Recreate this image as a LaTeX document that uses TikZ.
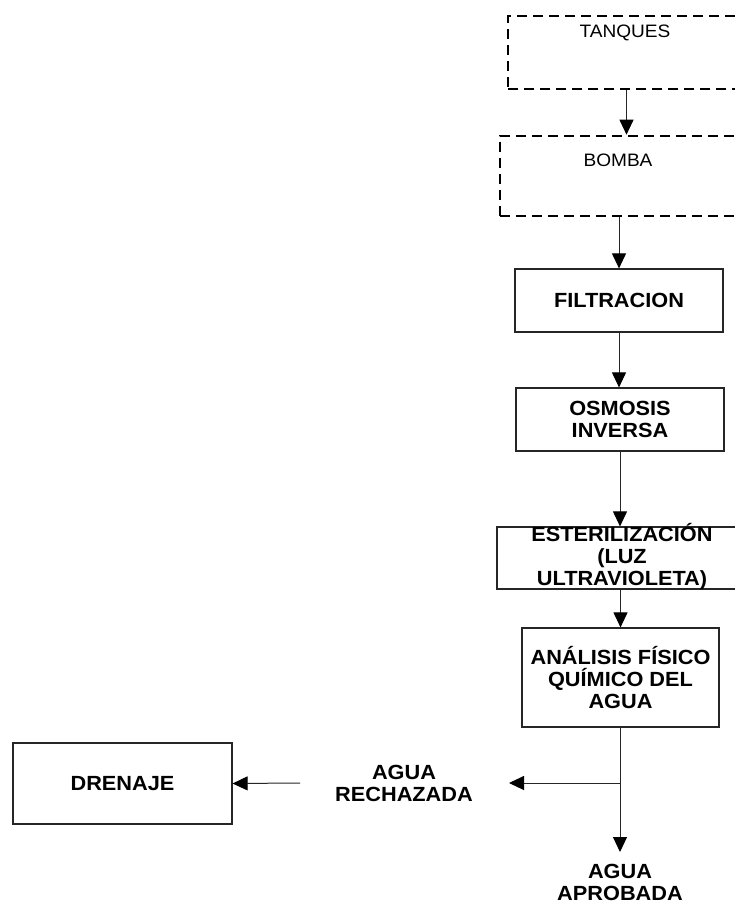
\documentclass[tikz,border=0pt]{standalone}
\usepackage{fontspec}
\setmainfont[FakeStretch=1.06]{Liberation Sans}
\usetikzlibrary{arrows.meta}
\tikzset{
  box/.style={draw=black!85, line width=1.2pt, inner sep=0pt, align=center,
    font=\fontsize{20.5}{22}\selectfont\bfseries},
  dashbox/.style={draw=black, line width=2.6pt, dash pattern=on 10pt off 6pt, inner sep=0pt},
  plain/.style={inner sep=0pt, font=\fontsize{18}{20}\selectfont},
  lbl/.style={inner sep=0pt, align=center, font=\fontsize{20.5}{22}\selectfont\bfseries},
  flow/.style={draw=black!85, line width=1pt, -{Triangle[width=14pt,length=15pt,color=black]}},
  wire/.style={draw=black!85, line width=1pt}
}
\begin{document}
\begin{tikzpicture}[x=1pt, y=-1pt]
  \clip (0,0) rectangle (735,904);
  \fill[white] (0,0) rectangle (735,904);

  % dashed boxes running past the right edge
  \node[dashbox, minimum width=237pt, minimum height=73pt] (tanques) at (626.5,52.5) {};
  \node[plain] (tanqueslbl) at (625,33) {TANQUES};
  \node[dashbox, minimum width=245pt, minimum height=80pt] (bomba) at (622.5,176) {};
  \node[plain] (bombalbl) at (618,160) {BOMBA};

  % process boxes
  \node[box, minimum width=208pt, minimum height=63pt] (filtracion) at (619,300.5) {FILTRACION};
  \node[box, minimum width=208pt, minimum height=63pt] (osmosis) at (620,419.5) {OSMOSIS\\INVERSA};
  \node[box, minimum width=248pt, minimum height=62pt] (ester) at (621,558) {};
  \node[lbl] (esterlbl) at (622,557) {ESTERILIZACIÓN\\(LUZ\\ULTRAVIOLETA)};
  \node[box, minimum width=197pt, minimum height=99pt] (analisis) at (620.5,677.5) {ANÁLISIS FÍSICO\\QUÍMICO DEL\\AGUA};
  \node[box, minimum width=219pt, minimum height=81pt] (drenaje) at (122.5,783.5) {DRENAJE};

  % free labels
  \node[lbl] (rechazada) at (404,783) {AGUA\\RECHAZADA};
  \node[lbl] (aprobada) at (620,882.5) {AGUA\\APROBADA};

  % branch points
  \coordinate (split) at (620,783);
  \coordinate (rejtip) at (509,783);
  \coordinate (apptip) at (620,852);
  \coordinate (drstart) at (300,783);

  % connectors
  \draw[flow] (tanques.south) -- (tanques.south |- bomba.north);
  \draw[flow] (filtracion.north |- bomba.south) -- (filtracion.north);
  \draw[flow] (filtracion.south) -- (osmosis.north -| filtracion.south);
  \draw[flow] (osmosis.south) -- (osmosis.south |- ester.north);
  \draw[flow] (analisis.north |- ester.south) -- (analisis.north);
  \draw[flow] (analisis.south -| split) -- (apptip);
  \draw[flow] (split) -- (rejtip);
  \draw[flow] (drstart) -- (drenaje.east);
\end{tikzpicture}
\end{document}
